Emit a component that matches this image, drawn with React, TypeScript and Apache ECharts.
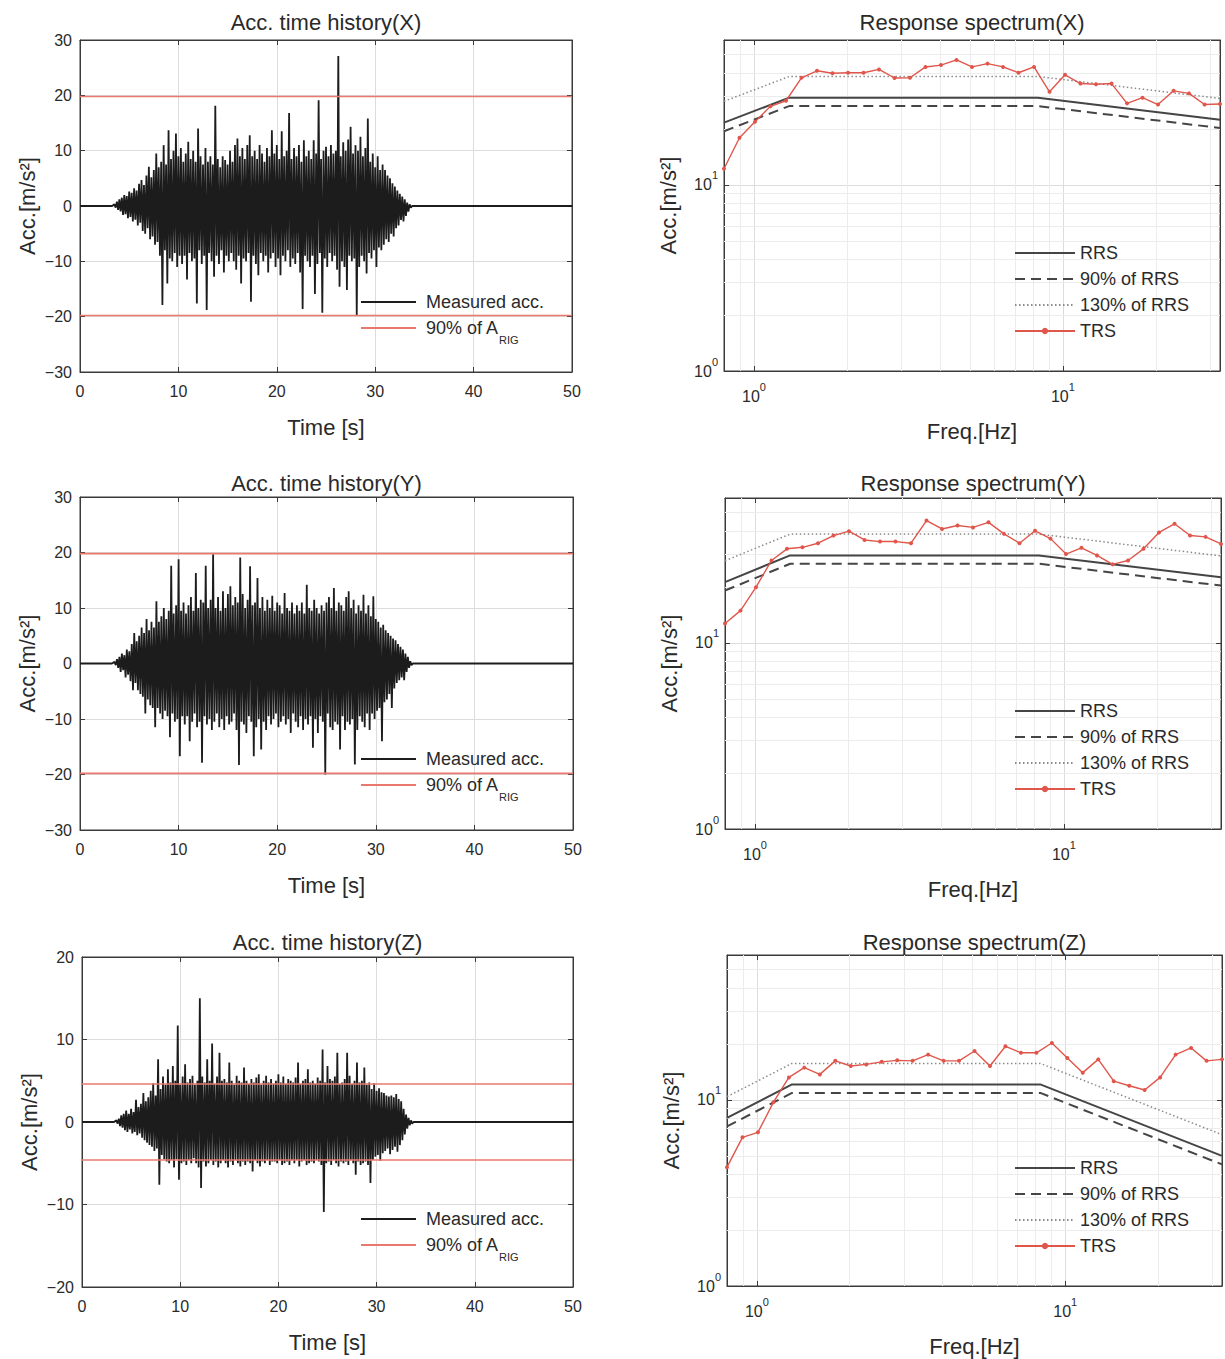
import React, { useEffect, useRef } from 'react';
import * as echarts from 'echarts';

// ---------------- data ----------------
const timeRange = [0, 50];
const histTimeStart = 3.5; // s, first envelope bin
const histBinWidth = 0.25; // s, envelope bin width

// per-bin maxima / minima of the measured acceleration (m/s^2)
const xUpper = [
  0.3, 0.8, 1.2, 1.5, 2.0, 1.8, 2.6, 2.4, 3.2, 2.8, 4.0, 4.7, 3.8, 5.5, 7.1, 5.2,
  6.5, 9.5, 7.0, 8.0, 11.0, 7.5, 13.7, 8.5, 10.0, 13.1, 9.0, 10.5, 8.0, 9.5, 11.6, 8.5,
  10.0, 8.0, 14.0, 9.0, 7.5, 10.5, 8.0, 9.0, 7.5, 18.1, 8.5, 7.0, 9.0, 8.3, 7.5, 10.0,
  8.0, 11.0, 12.2, 9.0, 10.5, 8.5, 11.0, 12.8, 9.0, 10.0, 8.5, 11.0, 9.5, 8.0, 10.5, 9.0,
  13.7, 9.5, 11.0, 8.5, 13.5, 9.0, 10.0, 16.8, 8.5, 10.5, 9.0, 11.0, 8.0, 11.9, 9.0, 10.0,
  8.5, 11.9, 9.5, 19.1, 8.5, 10.0, 10.7, 9.0, 11.0, 9.5, 10.0, 27.1, 9.0, 11.5, 10.0, 12.0,
  14.3, 9.5, 11.0, 10.0, 12.5, 9.0, 10.5, 15.8, 8.0, 9.5, 7.0, 9.0, 6.5, 7.5, 6.5, 5.5,
  5.0, 4.1, 3.5, 2.8, 2.2, 1.7, 1.2, 0.6, 0.3,
];
const xLower = [
  -0.3, -0.7, -1.0, -1.6, -1.5, -2.2, -2.0, -2.8, -2.5, -3.5, -3.0, -4.5, -5.0, -4.0, -6.0, -5.5,
  -7.0, -6.5, -9.0, -17.9, -8.0, -14.0, -9.5, -10.0, -8.5, -11.0, -9.0, -10.5, -9.0, -13.3, -8.5, -10.0,
  -9.5, -17.6, -8.0, -10.5, -9.0, -18.8, -8.5, -10.0, -12.8, -9.0, -10.5, -8.0, -12.0, -9.0, -10.0, -8.5,
  -10.0, -11.5, -9.0, -14.0, -9.5, -10.0, -8.5, -17.3, -9.0, -10.5, -12.5, -8.5, -10.0, -9.0, -12.0, -9.5,
  -8.5, -11.0, -9.5, -12.5, -9.0, -10.0, -8.0, -11.0, -9.5, -10.5, -8.5, -12.0, -18.6, -9.0, -10.0, -11.0,
  -9.0, -15.9, -10.5, -8.5, -19.3, -9.5, -11.0, -8.5, -10.0, -9.0, -11.5, -14.6, -10.0, -11.0, -15.2, -9.0,
  -10.0, -9.5, -19.7, -11.0, -9.0, -10.0, -12.2, -8.5, -9.5, -8.0, -11.0, -7.5, -8.0, -7.0, -6.0, -6.5,
  -5.0, -5.5, -4.0, -3.5, -2.5, -2.8, -1.8, -1.0, -0.3,
];
const yUpper = [
  0.3, 0.8, 1.2, 1.8, 1.5, 2.5, 2.2, 3.5, 5.5, 4.0, 5.0, 6.5, 5.5, 8.0, 6.0, 7.5,
  6.5, 11.2, 7.5, 8.5, 10.0, 8.0, 9.5, 17.6, 9.0, 10.5, 18.8, 9.5, 11.0, 9.0, 10.5, 12.0,
  9.5, 16.3, 10.0, 11.5, 11.0, 17.6, 10.0, 11.5, 19.7, 10.0, 12.0, 9.5, 13.0, 10.0, 12.5, 13.9,
  10.5, 12.0, 11.0, 19.1, 12.5, 10.0, 11.5, 17.5, 10.5, 11.0, 15.4, 10.0, 12.0, 9.5, 11.5, 10.0,
  12.2, 9.5, 11.0, 10.5, 9.0, 12.7, 10.0, 9.5, 11.0, 9.0, 10.5, 9.5, 11.0, 9.0, 14.2, 10.0,
  9.5, 11.5, 10.0, 9.0, 10.5, 9.5, 11.0, 12.0, 10.0, 13.6, 9.5, 11.0, 10.5, 9.5, 12.0, 13.0,
  10.0, 11.5, 9.0, 10.5, 9.5, 12.4, 9.0, 10.5, 8.5, 12.1, 8.0, 7.5, 6.5, 7.0, 6.0, 5.5,
  5.0, 4.5, 4.2, 3.5, 3.0, 2.5, 1.8, 1.2, 0.4,
];
const yLower = [
  -0.3, -0.8, -1.5, -1.2, -2.5, -2.0, -3.2, -4.8, -3.5, -4.8, -5.5, -6.0, -9.0, -6.5, -7.5, -8.0,
  -11.5, -8.0, -9.0, -10.0, -8.5, -9.5, -13.3, -9.0, -10.5, -10.0, -16.7, -9.5, -11.0, -9.5, -14.0, -10.5,
  -9.0, -11.5, -10.5, -17.9, -9.5, -11.0, -10.0, -12.0, -10.5, -9.0, -11.5, -10.0, -12.0, -9.5, -11.0, -10.5,
  -9.0, -12.0, -18.3, -10.5, -11.0, -12.5, -9.5, -10.5, -16.7, -11.5, -10.0, -15.5, -10.5, -12.0, -9.5, -11.0,
  -10.0, -9.0, -11.5, -10.5, -9.5, -11.0, -10.0, -12.5, -9.0, -10.5, -11.5, -9.5, -12.0, -10.0, -11.0, -9.5,
  -15.2, -10.0, -12.5, -9.5, -10.5, -20.0, -9.0, -11.5, -12.0, -10.5, -11.0, -15.5, -9.5, -12.0, -10.5, -11.0,
  -10.0, -18.2, -12.0, -9.5, -10.5, -11.5, -9.0, -12.0, -9.0, -10.0, -8.5, -8.0, -14.0, -7.0, -6.5, -5.5,
  -8.0, -4.5, -3.5, -3.0, -2.5, -3.0, -1.5, -0.8, -0.3,
];
const zUpper = [
  0.2, 0.4, 0.8, 1.0, 1.4, 1.0, 1.6, 1.2, 2.7, 1.8, 2.2, 3.5, 2.5, 3.0, 3.8, 4.7,
  3.2, 7.6, 4.0, 5.5, 4.5, 6.4, 4.8, 6.8, 5.0, 11.7, 4.5, 5.5, 7.0, 4.8, 5.2, 5.6,
  4.5, 5.0, 15.0, 5.5, 4.8, 7.6, 5.0, 9.5, 4.6, 5.5, 8.4, 5.0, 5.2, 4.8, 7.2, 5.0,
  4.5, 5.6, 5.0, 4.8, 6.6, 5.0, 4.6, 5.2, 4.8, 5.4, 5.8, 4.5, 5.0, 5.6, 4.8, 5.2,
  4.6, 5.0, 5.8, 4.8, 5.5, 4.6, 5.2, 5.0, 4.8, 5.4, 7.2, 4.6, 5.0, 5.2, 6.4, 4.8,
  5.0, 4.6, 5.4, 5.0, 8.8, 4.8, 6.8, 5.2, 5.0, 5.5, 8.4, 4.6, 4.8, 5.2, 8.4, 5.6,
  4.6, 5.0, 7.2, 4.8, 5.0, 6.6, 4.5, 4.8, 4.0, 4.7, 3.8, 4.1, 3.6, 3.5, 3.2, 3.1,
  3.2, 3.0, 3.4, 2.8, 2.5, 1.6, 0.9, 0.5, 0.2,
];
const zLower = [
  -0.2, -0.5, -0.7, -1.0, -1.2, -0.9, -1.4, -1.2, -1.6, -1.4, -1.9, -2.2, -2.5, -2.8, -3.0, -3.5,
  -3.2, -7.6, -4.0, -4.5, -4.8, -5.0, -4.6, -5.5, -4.5, -7.0, -5.0, -4.8, -5.2, -4.6, -5.0, -4.4,
  -5.0, -5.5, -8.0, -4.8, -5.4, -5.0, -4.6, -5.2, -4.8, -5.5, -5.0, -4.6, -5.0, -5.5, -4.8, -5.2,
  -4.6, -5.0, -5.4, -4.8, -5.2, -4.8, -5.0, -6.0, -4.6, -5.0, -5.4, -4.8, -5.0, -4.6, -5.2, -4.8,
  -4.8, -5.0, -4.6, -5.2, -5.0, -4.8, -5.2, -4.6, -5.0, -4.6, -5.4, -4.8, -4.6, -5.2, -5.0, -4.8,
  -5.0, -4.6, -4.8, -5.2, -10.9, -5.0, -4.8, -5.2, -4.6, -5.0, -5.4, -4.8, -5.0, -4.8, -5.2, -4.6,
  -5.0, -6.4, -4.8, -5.2, -5.0, -4.8, -5.2, -7.4, -4.6, -4.2, -4.0, -4.7, -3.8, -3.5, -3.2, -3.9,
  -3.4, -3.0, -3.6, -2.8, -2.2, -1.5, -0.8, -0.4, -0.2,
];

const aRigX = 19.8;
const aRigY = 19.8;
const aRigZ = 4.6;
const histYLimits = [30, 30, 20];

const freqHz = [
  0.8, 0.898, 1.008, 1.131, 1.27, 1.425, 1.6, 1.796, 2.016, 2.263, 2.54, 2.851, 3.2, 3.592, 4.032, 4.525,
  5.08, 5.702, 6.4, 7.184, 8.064, 9.051, 10.16, 11.4, 12.8, 14.37, 16.13, 18.1, 20.32, 22.81, 25.6, 28.74, 32.25,
];
const trsX = [
  12.2, 17.9, 21.8, 26.4, 28.3, 37.6, 41, 39.8, 40, 40, 41.7, 37.5, 37.6, 43, 44, 46.9,
  43, 44.8, 43, 40, 43, 31.6, 39, 35, 34.7, 35, 27.4, 29.4, 27, 32, 31, 27, 27.2,
];
const trsY = [
  12.7, 14.9, 19.9, 27.7, 32, 32.6, 34.3, 37.7, 39.8, 35.7, 35, 35, 34.3, 45.4, 40.9, 42.7,
  41.7, 44.4, 38.5, 34.3, 40, 36.3, 30, 32.4, 29.5, 26.4, 27.7, 32, 39.2, 43.6, 37.7, 37.1, 34,
];
const trsZ = [
  4.35, 6.29, 6.69, 9.7, 13.2, 14.9, 13.7, 16.2, 15.2, 15.5, 16.0, 16.3, 16.2, 17.5, 16.2, 16.2,
  18.3, 15.2, 19.4, 17.9, 17.9, 20.2, 16.8, 14.0, 16.5, 12.6, 11.9, 11.3, 13.2, 17.5, 19.0, 16.2, 16.5,
];
const rrsFreqHz = [0.8, 1.3, 8.3, 32.25];
const rrsX = [21.6, 29.4, 29.4, 22.4];
const rrs90X = [19.4, 26.5, 26.5, 20.2];
const rrs130X = [28.1, 38.2, 38.2, 29.1];
const rrsY = [21.2, 29.5, 29.5, 22.5];
const rrs90Y = [19.1, 26.6, 26.6, 20.3];
const rrs130Y = [27.6, 38.4, 38.4, 29.3];
const rrsZ = [8.0, 12.1, 12.1, 5.0];
const rrs90Z = [7.2, 10.9, 10.9, 4.5];
const rrs130Z = [10.4, 15.7, 15.7, 6.5];

const specFreqRange = [0.8, 32.25];
const specAccRange = [1, 60];
const logXMinorTicks = [0.9, 2, 3, 4, 5, 6, 7, 8, 9, 20, 30];
const logYMinorTicks = [2, 3, 4, 5, 6, 7, 8, 9, 20, 30, 40, 50];

// ---------------- styling / layout ----------------
const FONT = '"Liberation Sans", Arial, Helvetica, sans-serif';
const TEXT = '#2a2a2a';
const AXIS = '#3a3a3a';
const GRID = '#dcdcdc';
const MINOR = '#ececec';
const BLACK = '#1c1c1c';
const RED_LEVEL = '#e9786e';
const RED_TRS = '#e0564b';
const RRS_C = '#454545';

const layout = [
  { hist: { left: 80, top: 40, width: 492, height: 332 }, spec: { left: 724, top: 40, width: 496, height: 331 }, titleTop: 10 },
  { hist: { left: 80, top: 497, width: 493, height: 333 }, spec: { left: 725, top: 498, width: 496, height: 331 }, titleTop: 471 },
  { hist: { left: 82, top: 957, width: 491, height: 330 }, spec: { left: 727, top: 955, width: 495, height: 331 }, titleTop: 930 },
];

function buildHistory(upper: number[], lower: number[]): number[][] {
  const pts: number[][] = [[timeRange[0], 0], [histTimeStart - histBinWidth, 0]];
  for (let i = 0; i < upper.length; i++) {
    const t = histTimeStart + i * histBinWidth;
    pts.push([t, upper[i]]);
    pts.push([t + histBinWidth / 2, lower[i]]);
  }
  pts.push([histTimeStart + upper.length * histBinWidth, 0]);
  pts.push([timeRange[1], 0]);
  return pts;
}

const zip = (xs: number[], ys: number[]) => xs.map((x, i) => [x, ys[i]]);

const linLabel = (v: number) => (v < 0 ? '\u2212' + Math.abs(v) : String(v));
const logLabel = (v: number) => {
  const e = Math.log10(v);
  const r = Math.round(e);
  if (Math.abs(e - r) > 1e-6) return '';
  return '{b|10}{s|' + r + '}';
};
const logRich = {
  b: { fontSize: 16, color: TEXT, fontFamily: FONT, lineHeight: 30 },
  s: { fontSize: 11, color: TEXT, fontFamily: FONT, lineHeight: 11, verticalAlign: 'top' },
};

function buildOption() {
  const panels = [
    { dir: 'X', upper: xUpper, lower: xLower, aRig: aRigX, yLim: histYLimits[0], trs: trsX, rrs: rrsX, rrs90: rrs90X, rrs130: rrs130X },
    { dir: 'Y', upper: yUpper, lower: yLower, aRig: aRigY, yLim: histYLimits[1], trs: trsY, rrs: rrsY, rrs90: rrs90Y, rrs130: rrs130Y },
    { dir: 'Z', upper: zUpper, lower: zLower, aRig: aRigZ, yLim: histYLimits[2], trs: trsZ, rrs: rrsZ, rrs90: rrs90Z, rrs130: rrs130Z },
  ];
  const grid: any[] = [];
  const xAxis: any[] = [];
  const yAxis: any[] = [];
  const series: any[] = [];
  const legend: any[] = [];
  const title: any[] = [];
  const tick = { inside: true, length: 5, lineStyle: { color: AXIS, width: 1 } };
  const line = { show: true, onZero: false, lineStyle: { color: AXIS, width: 1 } };
  const labelBase = { fontSize: 16, color: TEXT, fontFamily: FONT };
  const nameStyle = { fontSize: 22, color: TEXT, fontFamily: FONT };
  const noSymbol = { opacity: 0 };

  panels.forEach((p, r) => {
    const L = layout[r];
    const gh = r * 2;
    const gs = r * 2 + 1;
    grid.push({ ...L.hist, show: true, borderColor: AXIS, borderWidth: 1, backgroundColor: 'transparent' });
    grid.push({ ...L.spec, show: true, borderColor: AXIS, borderWidth: 1, backgroundColor: 'transparent' });

    title.push({
      text: 'Acc. time history(' + p.dir + ')', left: L.hist.left + L.hist.width / 2, top: L.titleTop, textAlign: 'center', padding: 0,
      textStyle: { fontSize: 22, fontWeight: 'normal', color: TEXT, fontFamily: FONT, lineHeight: 24 },
    });
    title.push({
      text: 'Response spectrum(' + p.dir + ')', left: L.spec.left + L.spec.width / 2, top: L.titleTop, textAlign: 'center', padding: 0,
      textStyle: { fontSize: 22, fontWeight: 'normal', color: TEXT, fontFamily: FONT, lineHeight: 24 },
    });

    // ---- time history axes ----
    xAxis.push({
      type: 'value', gridIndex: gh, min: timeRange[0], max: timeRange[1], interval: 10, position: 'bottom',
      axisLine: line, axisTick: tick, splitLine: { show: true, lineStyle: { color: GRID, width: 1 } },
      axisLabel: { ...labelBase, formatter: linLabel, margin: 11 },
      name: 'Time [s]', nameLocation: 'middle', nameGap: 44, nameTextStyle: nameStyle,
    });
    xAxis.push({
      type: 'value', gridIndex: gh, min: timeRange[0], max: timeRange[1], interval: 10, position: 'top',
      axisLine: line, axisTick: tick, splitLine: { show: false }, axisLabel: { show: false },
    });
    yAxis.push({
      type: 'value', gridIndex: gh, min: -p.yLim, max: p.yLim, interval: 10, position: 'left',
      axisLine: line, axisTick: tick, splitLine: { show: true, lineStyle: { color: GRID, width: 1 } },
      axisLabel: { ...labelBase, formatter: linLabel, margin: 8 },
      name: 'Acc.[m/s\u00B2]', nameLocation: 'middle', nameGap: 42, nameTextStyle: nameStyle,
    });
    yAxis.push({
      type: 'value', gridIndex: gh, min: -p.yLim, max: p.yLim, interval: 10, position: 'right',
      axisLine: line, axisTick: tick, splitLine: { show: false }, axisLabel: { show: false },
    });

    // ---- spectrum axes ----
    xAxis.push({
      type: 'log', logBase: 10, gridIndex: gs, min: specFreqRange[0], max: specFreqRange[1], position: 'bottom',
      axisLine: line, axisTick: tick, splitLine: { show: true, lineStyle: { color: GRID, width: 1 } },
      axisLabel: { formatter: logLabel, rich: logRich, margin: 10 },
      name: 'Freq.[Hz]', nameLocation: 'middle', nameGap: 49, nameTextStyle: nameStyle,
    });
    xAxis.push({
      type: 'log', logBase: 10, gridIndex: gs, min: specFreqRange[0], max: specFreqRange[1], position: 'top',
      axisLine: line, axisTick: tick, splitLine: { show: false }, axisLabel: { show: false },
    });
    yAxis.push({
      type: 'log', logBase: 10, gridIndex: gs, min: specAccRange[0], max: specAccRange[1], position: 'left',
      axisLine: line, axisTick: tick, splitLine: { show: true, lineStyle: { color: GRID, width: 1 } },
      axisLabel: { formatter: logLabel, rich: logRich, margin: 6 },
      name: 'Acc.[m/s\u00B2]', nameLocation: 'middle', nameGap: 45, nameTextStyle: nameStyle,
    });
    yAxis.push({
      type: 'log', logBase: 10, gridIndex: gs, min: specAccRange[0], max: specAccRange[1], position: 'right',
      axisLine: line, axisTick: tick, splitLine: { show: false }, axisLabel: { show: false },
    });

    const xi = gh * 2; // main x axis index of history grid
    const si = gs * 2; // main axis index of spectrum grid

    // ---- time history series ----
    series.push({
      type: 'line', name: 'Measured acc.', xAxisIndex: xi, yAxisIndex: xi, data: buildHistory(p.upper, p.lower),
      symbol: 'none', showSymbol: false, lineStyle: { color: BLACK, width: 1.8 }, itemStyle: { color: BLACK }, z: 2, silent: true,
    });
    [p.aRig, -p.aRig].forEach((lv) => {
      series.push({
        type: 'line', name: '90% of A_RIG', xAxisIndex: xi, yAxisIndex: xi, data: [[timeRange[0], lv], [timeRange[1], lv]],
        symbol: 'none', showSymbol: false, lineStyle: { color: RED_LEVEL, width: 1.6 }, itemStyle: { color: RED_LEVEL }, z: 3, silent: true,
      });
    });

    // ---- spectrum series ----
    series.push({
      type: 'line', name: 'RRS', xAxisIndex: si, yAxisIndex: si, data: zip(rrsFreqHz, p.rrs),
      symbol: 'none', showSymbol: false, lineStyle: { color: RRS_C, width: 2 }, itemStyle: { color: RRS_C }, z: 3, silent: true,
      markLine: {
        silent: true, symbol: ['none', 'none'], z: 1, label: { show: false }, animation: false,
        lineStyle: { color: MINOR, width: 1, type: 'solid' },
        emphasis: { disabled: true },
        data: [...logXMinorTicks.map((v) => ({ xAxis: v })), ...logYMinorTicks.map((v) => ({ yAxis: v }))],
      },
    });
    series.push({
      type: 'line', name: '90% of RRS', xAxisIndex: si, yAxisIndex: si, data: zip(rrsFreqHz, p.rrs90),
      symbol: 'none', showSymbol: false, lineStyle: { color: RRS_C, width: 2, type: [10, 6] }, itemStyle: { color: RRS_C }, z: 3, silent: true,
    });
    series.push({
      type: 'line', name: '130% of RRS', xAxisIndex: si, yAxisIndex: si, data: zip(rrsFreqHz, p.rrs130),
      symbol: 'none', showSymbol: false, lineStyle: { color: '#8a8a8a', width: 1.5, type: [1.5, 2.5] }, itemStyle: { color: '#8a8a8a' }, z: 3, silent: true,
    });
    series.push({
      type: 'line', name: 'TRS', xAxisIndex: si, yAxisIndex: si, data: zip(freqHz, p.trs),
      symbol: 'circle', symbolSize: 4, showSymbol: true, lineStyle: { color: RED_TRS, width: 1.4 }, itemStyle: { color: RED_TRS }, z: 4, silent: true,
    });

    // ---- legends ----
    legend.push({
      orient: 'vertical', left: 360, top: L.hist.top + 253, padding: 0, itemWidth: 55, itemHeight: 8, itemGap: 8,
      selectedMode: false,
      data: [
        { name: 'Measured acc.', lineStyle: { width: 2 }, itemStyle: noSymbol },
        { name: '90% of A_RIG', lineStyle: { width: 2 }, itemStyle: noSymbol },
      ],
      formatter: (n: string) => (n === '90% of A_RIG' ? '{b|90% of A}{sub|RIG}' : '{b|' + n + '}'),
      textStyle: {
        fontSize: 18, color: TEXT, fontFamily: FONT, padding: [0, 0, 0, 5],
        rich: {
          b: { fontSize: 18, color: TEXT, fontFamily: FONT, lineHeight: 34 },
          sub: { fontSize: 11, color: TEXT, fontFamily: FONT, lineHeight: 12, verticalAlign: 'bottom' },
        },
      },
    });
    legend.push({
      orient: 'vertical', left: 1014, top: L.spec.top + 203, padding: 0, itemWidth: 60, itemHeight: 8, itemGap: 6,
      selectedMode: false,
      data: [
        { name: 'RRS', itemStyle: noSymbol },
        { name: '90% of RRS', itemStyle: noSymbol },
        { name: '130% of RRS', itemStyle: noSymbol },
        'TRS',
      ],
      textStyle: { fontSize: 18, color: TEXT, fontFamily: FONT, lineHeight: 20 },
    });
  });

  return {
    animation: false,
    backgroundColor: '#ffffff',
    textStyle: { fontFamily: FONT },
    title,
    legend,
    grid,
    xAxis,
    yAxis,
    series,
  };
}

export default function App() {
  const ref = useRef<HTMLDivElement>(null);
  useEffect(() => {
    if (!ref.current) return;
    const chart = echarts.init(ref.current, undefined, { renderer: 'svg' });
    chart.setOption(buildOption() as any);
    return () => chart.dispose();
  }, []);
  return (
    <div
      ref={ref}
      style={{ position: 'absolute', left: 0, top: 0, width: 1225, height: 1359, background: '#fff' }}
    />
  );
}
